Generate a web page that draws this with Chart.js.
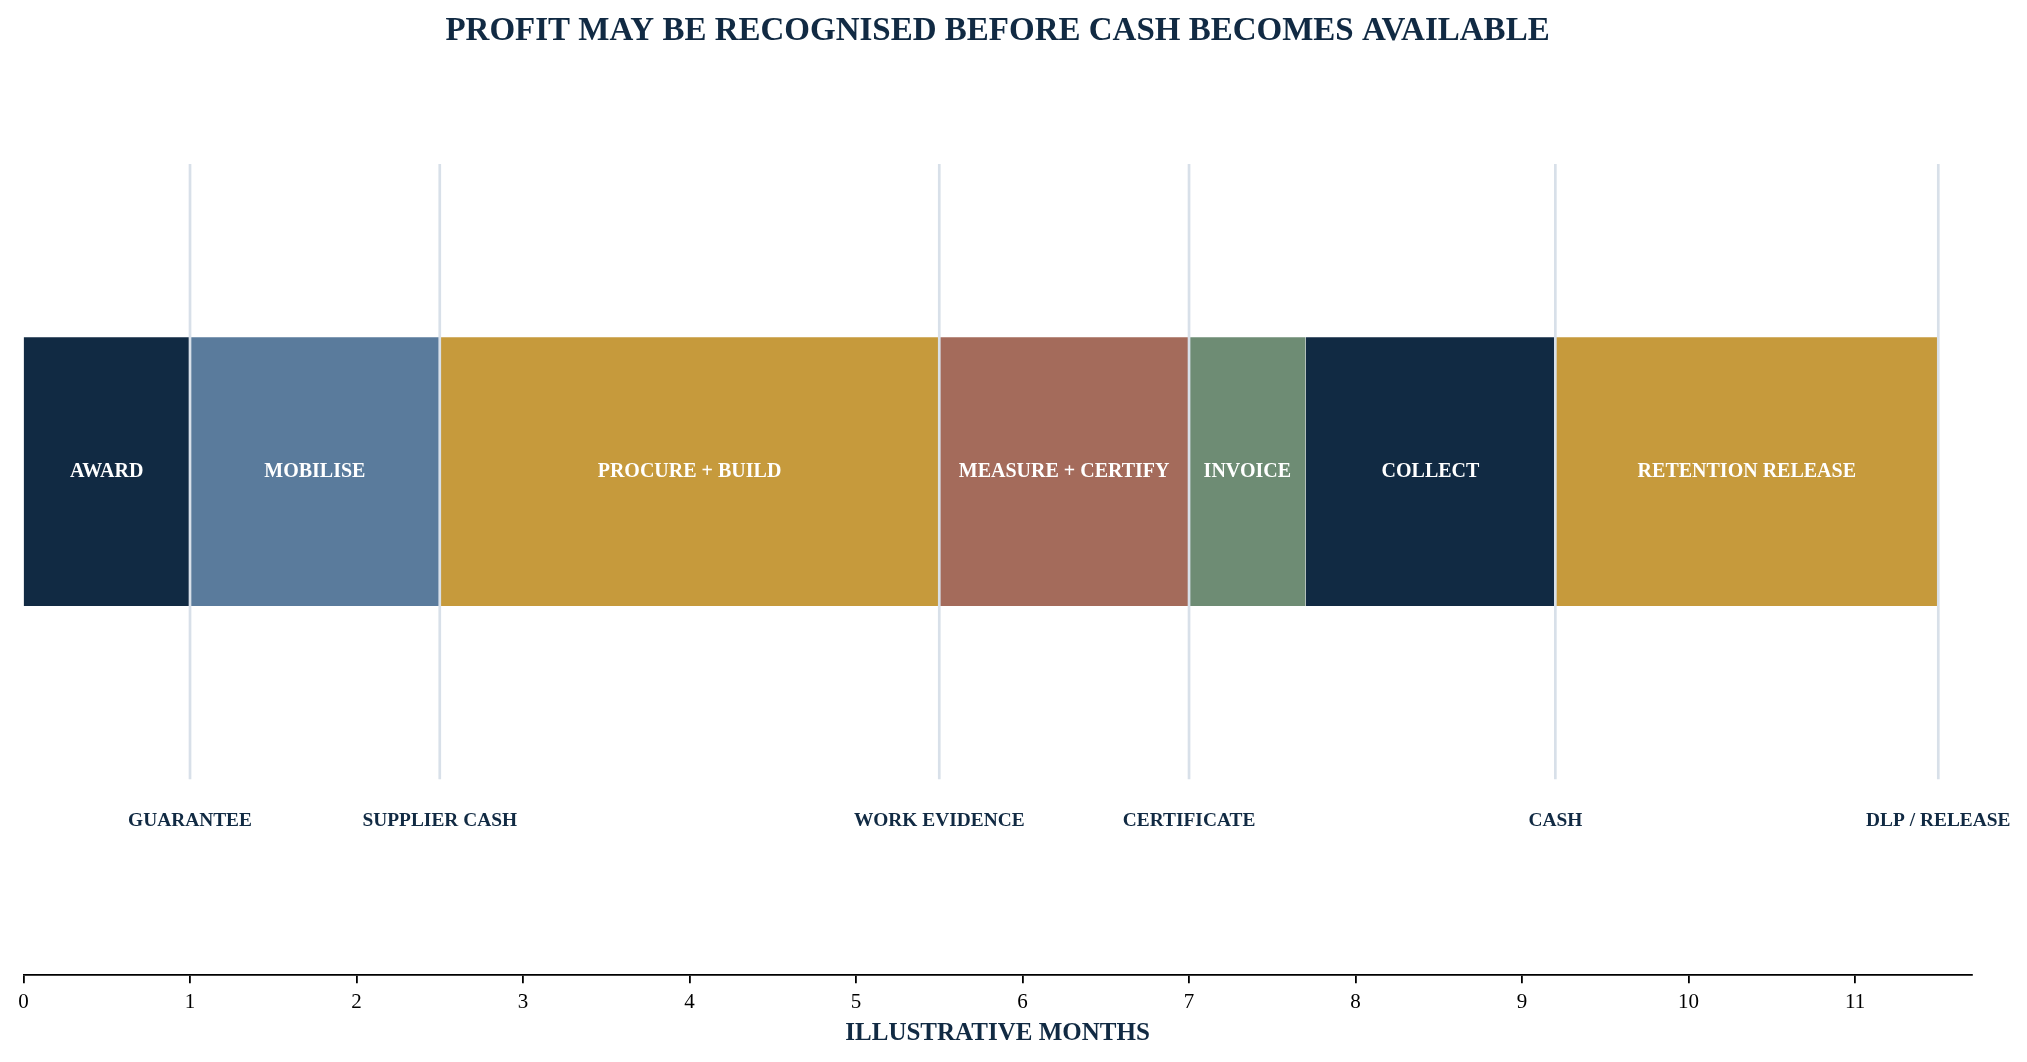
<!DOCTYPE html>
<html>
<head>
<meta charset="utf-8">
<script src="https://cdn.jsdelivr.net/npm/chart.js@4"></script>
<style>
  html, body { margin: 0; padding: 0; background: #fff; }
  #wrap { width: 2027px; height: 1062px; }
</style>
</head>
<body>
<div id="wrap"><canvas id="timeline"></canvas></div>
<script>
// Stages of the contract cycle (months)
const stageNames = ['AWARD', 'MOBILISE', 'PROCURE + BUILD', 'MEASURE + CERTIFY', 'INVOICE', 'COLLECT', 'RETENTION RELEASE'];
const stageStart = [0, 1, 2.5, 5.5, 7, 7.7, 9.2];
const stageEnd = [1, 2.5, 5.5, 7, 7.7, 9.2, 11.5];
const stageColors = ['#112a43', '#5a7b9c', '#c69a3c', '#a46b5b', '#6e8c74', '#112a43', '#c69a3c'];

// Gates where something has to happen before moving on
const milestoneNames = ['GUARANTEE', 'SUPPLIER CASH', 'WORK EVIDENCE', 'CERTIFICATE', 'CASH', 'DLP / RELEASE'];
const milestoneMonths = [1, 2.5, 5.5, 7, 9.2, 11.5];

const tickMonths = [0, 1, 2, 3, 4, 5, 6, 7, 8, 9, 10, 11];

// vertical layout (y units, not data)
const BAR_HALF = 0.2;
const LINE_HALF = 0.458;
const LABEL_Y = -0.52;

const SERIF = "'Liberation Serif', 'Times New Roman', serif";
const NAVY = '#112a43';

const datasets = [];

// bars: a flat line at the top, filled down to the bottom edge
stageNames.forEach(function(name, i){
  datasets.push({
    label: name,
    data: [{x: stageStart[i], y: BAR_HALF}, {x: stageEnd[i], y: BAR_HALF}],
    borderWidth: 0,
    borderColor: 'rgba(0,0,0,0)',
    backgroundColor: stageColors[i],
    fill: {value: -BAR_HALF},
    pointRadius: 0,
    order: 2
  });
});

// milestone markers drawn on top of the bars
milestoneMonths.forEach(function(m, i){
  datasets.push({
    label: milestoneNames[i],
    data: [{x: m, y: LINE_HALF}, {x: m, y: -LINE_HALF}],
    borderColor: '#d8e0e9',
    borderWidth: 2.7,
    pointRadius: 0,
    fill: false,
    order: 1
  });
});

const textPlugin = {
  id: 'textLabels',
  afterDatasetsDraw(chart){
    const c = chart.ctx;
    const xs = chart.scales.x, ys = chart.scales.y;
    c.save();
    c.textAlign = 'center';
    c.textBaseline = 'middle';
    c.font = 'bold 20px ' + SERIF;
    c.fillStyle = '#ffffff';
    stageNames.forEach(function(name, i){
      const mid = (stageStart[i] + stageEnd[i]) / 2;
      c.fillText(name, xs.getPixelForValue(mid), ys.getPixelForValue(0));
    });
    c.fillStyle = NAVY;
    c.font = 'bold 19.4px ' + SERIF;
    milestoneNames.forEach(function(name, i){
      c.fillText(name, xs.getPixelForValue(milestoneMonths[i]), ys.getPixelForValue(LABEL_Y));
    });
    c.restore();
  }
};

new Chart(document.getElementById('timeline'), {
  type: 'line',
  data: { datasets: datasets },
  plugins: [textPlugin],
  options: {
    responsive: true,
    maintainAspectRatio: false,
    animation: false,
    events: [],
    layout: { padding: { left: 23.5, right: 55.4, top: 0, bottom: 13 } },
    plugins: {
      legend: { display: false },
      tooltip: { enabled: false },
      title: {
        display: true,
        text: 'PROFIT MAY BE RECOGNISED BEFORE CASH BECOMES AVAILABLE',
        color: NAVY,
        font: { family: SERIF, size: 33, weight: 'bold' },
        padding: { top: 11.5, bottom: 17.5 }
      }
    },
    scales: {
      x: {
        type: 'linear',
        min: 0,
        max: 11.7,
        afterBuildTicks: function(axis){
          axis.ticks = tickMonths.map(v => ({value: v}));
        },
        ticks: {
          color: '#000',
          padding: 7,
          font: { family: SERIF, size: 21 }
        },
        grid: { drawOnChartArea: false, drawTicks: true, tickLength: 8, color: '#000', lineWidth: 1.8 },
        border: { display: true, color: '#000', width: 1.8 },
        title: {
          display: true,
          text: 'ILLUSTRATIVE MONTHS',
          color: NAVY,
          font: { family: SERIF, size: 25, weight: 'bold', lineHeight: 0.9 },
          padding: { top: 0, bottom: 4 }
        }
      },
      y: {
        type: 'linear',
        display: false,
        min: -0.75,
        max: 0.6
      }
    }
  }
});
</script>
</body>
</html>
